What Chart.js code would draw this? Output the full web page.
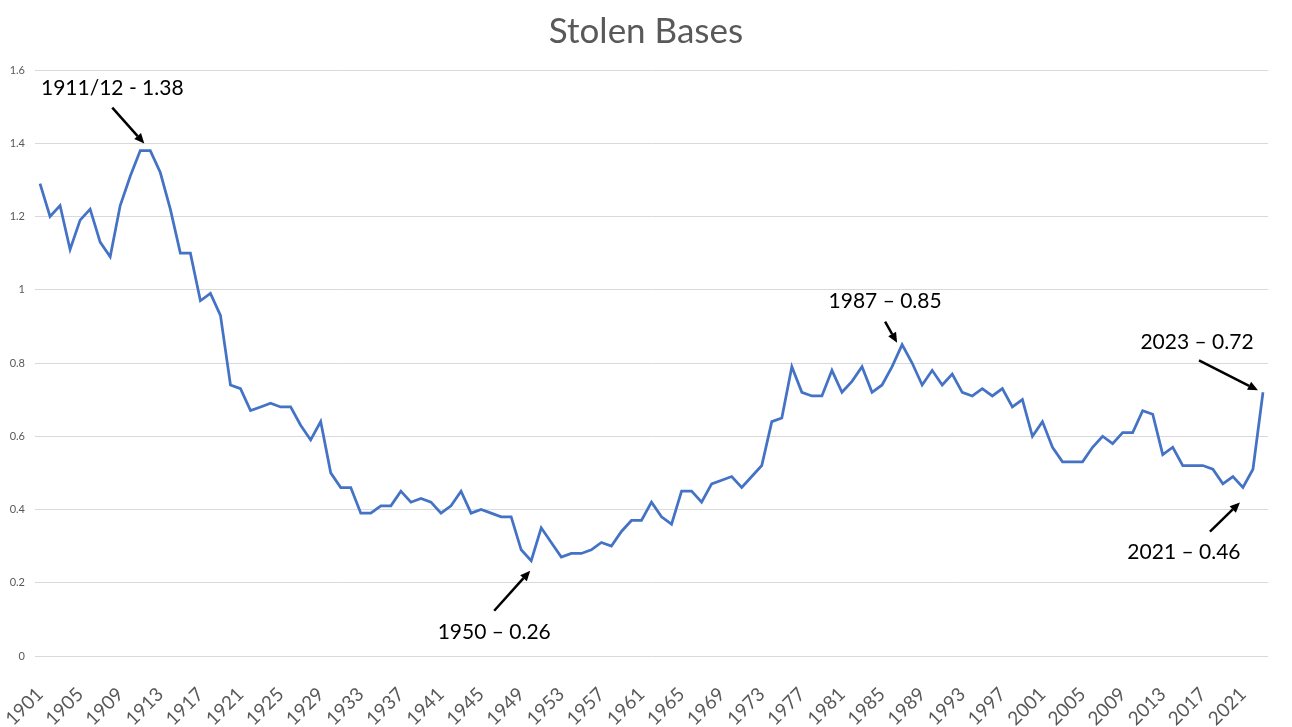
<!DOCTYPE html>
<html>
<head>
<meta charset="utf-8">
<script src="https://cdn.jsdelivr.net/npm/chart.js@4/dist/chart.umd.min.js"></script>
<style>
  html, body { margin: 0; padding: 0; background: #ffffff; }
  #wrap { width: 1292px; height: 727px; position: relative; }
</style>
</head>
<body>
<div id="wrap"><canvas id="c" width="1292" height="727"></canvas></div>
<script>
const years = [];
for (let y = 1901; y <= 2023; y++) years.push(String(y));

const stolenBases = [
  1.29, 1.20, 1.23, 1.11, 1.19, 1.22, 1.13, 1.09, 1.23, 1.31, // 1901-1910
  1.38, 1.38, 1.32, 1.22, 1.10, 1.10, 0.97, 0.99, 0.93, 0.74, // 1911-1920
  0.73, 0.67, 0.68, 0.69, 0.68, 0.68, 0.63, 0.59, 0.64, 0.50, // 1921-1930
  0.46, 0.46, 0.39, 0.39, 0.41, 0.41, 0.45, 0.42, 0.43, 0.42, // 1931-1940
  0.39, 0.41, 0.45, 0.39, 0.40, 0.39, 0.38, 0.38, 0.29, 0.26, // 1941-1950
  0.35, 0.31, 0.27, 0.28, 0.28, 0.29, 0.31, 0.30, 0.34, 0.37, // 1951-1960
  0.37, 0.42, 0.38, 0.36, 0.45, 0.45, 0.42, 0.47, 0.48, 0.49, // 1961-1970
  0.46, 0.49, 0.52, 0.64, 0.65, 0.79, 0.72, 0.71, 0.71, 0.78, // 1971-1980
  0.72, 0.75, 0.79, 0.72, 0.74, 0.79, 0.85, 0.80, 0.74, 0.78, // 1981-1990
  0.74, 0.77, 0.72, 0.71, 0.73, 0.71, 0.73, 0.68, 0.70, 0.60, // 1991-2000
  0.64, 0.57, 0.53, 0.53, 0.53, 0.57, 0.60, 0.58, 0.61, 0.61, // 2001-2010
  0.67, 0.66, 0.55, 0.57, 0.52, 0.52, 0.52, 0.51, 0.47, 0.49, // 2011-2020
  0.46, 0.51, 0.72                                              // 2021-2023
];

const yTicks = [0, 0.2, 0.4, 0.6, 0.8, 1, 1.2, 1.4, 1.6];

const calloutYears = ['1911/12', '1950', '1987', '2023', '2021'];
const calloutValues = [1.38, 0.26, 0.85, 0.72, 0.46];
const calloutTexts = ['1911/12 - 1.38', '1950 \u2013 0.26', '1987 \u2013 0.85', '2023 \u2013 0.72', '2021 \u2013 0.46'];

// placement of the callout text/arrow relative to the anchored data point (styling only)
const calloutLayout = [
  { tx: -33, ty: -62, ax0: -33, ay0: -43, ax1: -1, ay1: -7 },
  { tx: -37, ty: 71,  ax0: -37, ay0: 50,  ax1: -1, ay1: 10 },
  { tx: -17, ty: -43, ax0: -17, ay0: -23, ax1: -5, ay1: -2 },
  { tx: -66, ty: -50, ax0: -64, ay0: -32, ax1: -5, ay1: -2 },
  { tx: -59, ty: 65,  ax0: -33, ay0: 44,  ax1: -3, ay1: 15 }
];

function anchorIndex(label) {
  if (label.indexOf('/') >= 0) {
    const a = label.split('/')[0];
    const i = years.indexOf(a);
    return i + 0.5;
  }
  return years.indexOf(label);
}

const calloutPlugin = {
  id: 'callouts',
  afterDatasetsDraw(chart) {
    const ctx = chart.ctx;
    const xs = chart.scales.x, ys = chart.scales.y;
    ctx.save();
    calloutTexts.forEach((txt, k) => {
      const idx = anchorIndex(calloutYears[k]);
      const i0 = Math.floor(idx), i1 = Math.ceil(idx);
      const px = (xs.getPixelForValue(i0) + xs.getPixelForValue(i1)) / 2;
      const py = ys.getPixelForValue(calloutValues[k]);
      const L = calloutLayout[k];
      ctx.fillStyle = '#000000';
      ctx.font = '21px Lato, "Open Sans", sans-serif';
      ctx.textAlign = 'center';
      ctx.textBaseline = 'middle';
      ctx.fillText(txt, px + L.tx, py + L.ty);
      // arrow
      const x0 = px + L.ax0, y0 = py + L.ay0, x1 = px + L.ax1, y1 = py + L.ay1;
      const ang = Math.atan2(y1 - y0, x1 - x0);
      const head = 10, hw = 4.5;
      const bx = x1 - head * Math.cos(ang), by = y1 - head * Math.sin(ang);
      ctx.strokeStyle = '#000000';
      ctx.lineWidth = 2.5;
      ctx.beginPath();
      ctx.moveTo(x0, y0);
      ctx.lineTo(bx, by);
      ctx.stroke();
      ctx.beginPath();
      ctx.moveTo(x1, y1);
      ctx.lineTo(bx + hw * Math.sin(ang), by - hw * Math.cos(ang));
      ctx.lineTo(bx - hw * Math.sin(ang), by + hw * Math.cos(ang));
      ctx.closePath();
      ctx.fill();
    });
    ctx.restore();
  }
};

const bgPlugin = {
  id: 'bg',
  beforeDraw(chart) {
    const ctx = chart.ctx;
    ctx.save();
    ctx.fillStyle = '#ffffff';
    ctx.fillRect(0, 0, chart.width, chart.height);
    ctx.restore();
  }
};

new Chart(document.getElementById('c'), {
  type: 'line',
  data: {
    labels: years,
    datasets: [{
      label: 'Stolen Bases',
      data: stolenBases,
      borderColor: '#4472C4',
      borderWidth: 2.75,
      pointRadius: 0,
      pointHoverRadius: 0,
      tension: 0,
      fill: false
    }]
  },
  options: {
    responsive: false,
    animation: false,
    events: [],
    layout: { padding: 0 },
    plugins: {
      legend: { display: false },
      tooltip: { enabled: false },
      title: {
        display: true,
        text: 'Stolen Bases',
        color: '#595959',
        font: { family: 'Lato, "Open Sans", sans-serif', size: 35, weight: 'normal', lineHeight: 1.2 },
        padding: { top: 11, bottom: 17 }
      }
    },
    scales: {
      x: {
        type: 'category',
        offset: true,
        grid: { display: false, drawTicks: false },
        border: { display: false },
        ticks: {
          autoSkip: false,
          minRotation: 45,
          maxRotation: 45,
          padding: 27,
          color: '#595959',
          font: { family: 'Lato, "Open Sans", sans-serif', size: 19 },
          callback: function (v, i) { return i % 4 === 0 ? years[i] : ''; }
        },
        afterFit(scale) {
          scale.height = 71;
          scale.paddingLeft = 0;
          scale.paddingRight = 24;
        }
      },
      y: {
        min: 0,
        max: 1.6,
        afterBuildTicks(scale) { scale.ticks = yTicks.map(v => ({ value: v })); },
        grid: { color: '#d9d9d9', lineWidth: 1, drawTicks: false },
        border: { display: false },
        ticks: {
          padding: 10,
          color: '#595959',
          font: { family: 'Lato, "Open Sans", sans-serif', size: 11 },
          callback: function (v) { return String(Math.round(v * 10) / 10); }
        },
        afterFit(scale) {
          scale.width = 35;
          scale.paddingTop = 0;
          scale.paddingBottom = 0;
        }
      }
    }
  },
  plugins: [bgPlugin, calloutPlugin]
});
</script>
</body>
</html>
